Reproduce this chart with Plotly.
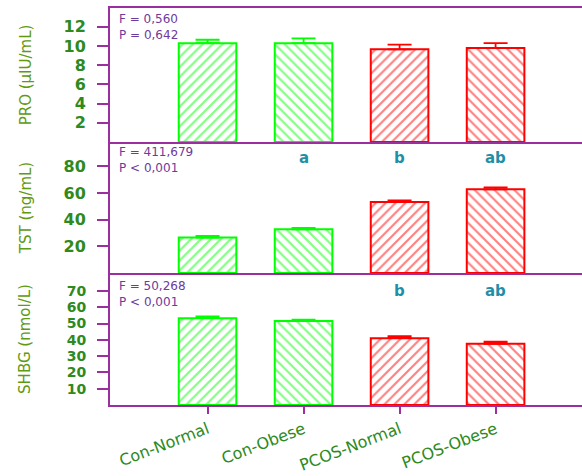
import plotly.graph_objects as go
from plotly.subplots import make_subplots

# Groups and measurements
groups = ["Con-Normal", "Con-Obese", "PCOS-Normal", "PCOS-Obese"]
pro_mean = [10.3, 10.3, 9.65, 9.8]
pro_err = [0.35, 0.5, 0.5, 0.5]
tst_mean = [26.6, 32.8, 53.2, 62.7]
tst_err = [1.2, 1.0, 1.2, 1.5]
shbg_mean = [53.3, 51.5, 41.0, 37.6]
shbg_err = [1.0, 0.8, 1.2, 1.2]

pro_stats = ["F = 0,560", "P = 0,642"]
tst_stats = ["F = 411,679", "P < 0,001"]
shbg_stats = ["F = 50,268", "P < 0,001"]
tst_letters = ["", "a", "b", "ab"]
shbg_letters = ["", "", "b", "ab"]

titles = ["PRO (µIU/mL)", "TST (ng/mL)", "SHBG (nmol/L)"]
ranges = [[0, 13.96], [0, 98.2], [0, 81]]
tickvals = [[2, 4, 6, 8, 10, 12], [20, 40, 60, 80], [10, 20, 30, 40, 50, 60, 70]]

bar_colors = ["#00ff00", "#00ff00", "#ff0000", "#ff0000"]
hatches = ["/", "\\", "/", "\\"]
purple = "#9b2fa0"
tick_green = "#2e8a1c"
title_green = "#5f9a12"
stat_purple = "#6e3a9c"
letter_teal = "#1f8fa8"
font = "DejaVu Sans"

fig = make_subplots(rows=3, cols=1, shared_xaxes=True, vertical_spacing=0)

panels = [(pro_mean, pro_err), (tst_mean, tst_err), (shbg_mean, shbg_err)]
for r, (mean, err) in enumerate(panels, start=1):
    fig.add_trace(go.Bar(
        x=groups, y=mean, width=0.6,
        marker=dict(
            color="white",
            line=dict(color=bar_colors, width=2),
            pattern=dict(shape=hatches, fgcolor=bar_colors, bgcolor="white",
                         size=7, solidity=0.3, fillmode="overlay"),
        ),
        showlegend=False,
    ), row=r, col=1)
    # upper error whiskers, one per bar so each takes its bar colour
    for g, m, e, c in zip(groups, mean, err, bar_colors):
        fig.add_trace(go.Scatter(
            x=[g], y=[m], mode="markers", marker=dict(size=0.1, color=c, opacity=0),
            error_y=dict(type="data", array=[e], arrayminus=[0], symmetric=False,
                         color=c, thickness=1.8, width=12),
            showlegend=False, hoverinfo="skip",
        ), row=r, col=1)

# panel domains (top to bottom)
domains = [[0.6625, 1.0], [0.3325, 0.6625], [0.0, 0.3325]]
tick_sizes = [16, 16, 14]
for i in range(3):
    yname = "yaxis" if i == 0 else f"yaxis{i + 1}"
    xname = "xaxis" if i == 0 else f"xaxis{i + 1}"
    fig.layout[yname].update(
        domain=domains[i], range=ranges[i], tickvals=tickvals[i],
        showline=True, linecolor=purple, linewidth=2,
        ticks="outside", ticklen=11, tickwidth=2, tickcolor=purple,
        ticklabelstandoff=8, automargin=False,
        showgrid=False, zeroline=False,
        tickfont=dict(family=font, size=tick_sizes[i], color=tick_green, weight="bold"),
        title=dict(text=titles[i], font=dict(family=font, size=15, color=title_green),
                   standoff=28 if i < 2 else 32),
    )
    fig.layout[xname].update(
        range=[-1.016, 3.9], showline=True, linecolor=purple, linewidth=2,
        mirror=(i == 0), showgrid=False, zeroline=False, automargin=False,
        ticks="outside" if i == 2 else "", ticklen=7, tickwidth=2, tickcolor=purple,
        showticklabels=(i == 2), tickangle=-21,
        tickfont=dict(family=font, size=16, color=tick_green),
    )

annotations = []
stat_y = [(19, 35), (152, 168), (286, 302)]
for i, stats in enumerate([pro_stats, tst_stats, shbg_stats]):
    for line, ypx in zip(stats, stat_y[i]):
        annotations.append(dict(
            text=line, xref="paper", yref="paper", x=7 / 472, y=1 - (ypx - 8) / 397,
            xanchor="left", yanchor="middle", showarrow=False,
            font=dict(family=font, size=12, color=stat_purple),
        ))

for letters, ypx in [(tst_letters, 158), (shbg_letters, 291)]:
    for g, t in zip(groups, letters):
        if t:
            annotations.append(dict(
                text=t, x=g, xref="x3", yref="paper", y=1 - (ypx - 8) / 397,
                yanchor="middle", showarrow=False,
                font=dict(family=font, size=15, color=letter_teal, weight="bold"),
            ))

fig.update_layout(
    width=582, height=476,
    margin=dict(l=110, r=0, t=8, b=71),
    paper_bgcolor="white", plot_bgcolor="white",
    bargap=0.4, annotations=annotations,
)

fig.write_html("out.html")
